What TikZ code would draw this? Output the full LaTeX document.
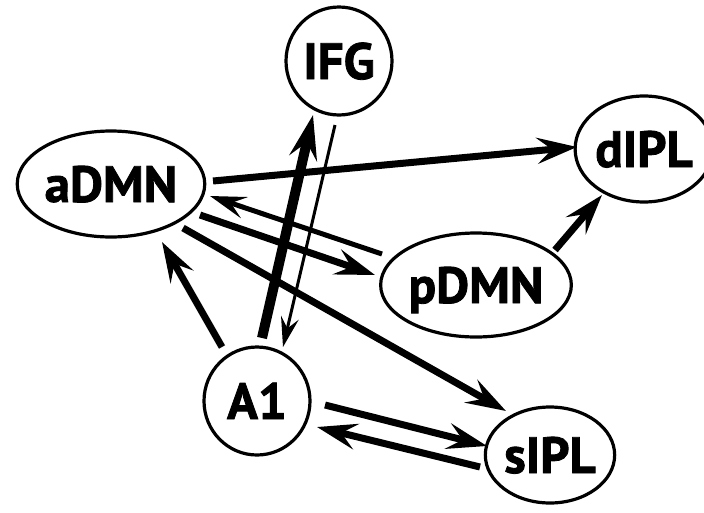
\documentclass[tikz,border=0pt]{standalone}
\usepackage{fontspec}
\setmainfont{PT Sans}[BoldFeatures={FakeBold=1.6}]
\usetikzlibrary{shapes.geometric,arrows.meta}

\begin{document}
\begin{tikzpicture}[x=1pt,y=-1pt,
  region/.style={draw, ellipse, line width=3.2pt, inner sep=0pt,
    text height=36pt, text depth=0pt,
    font=\fontsize{51}{51}\selectfont\bfseries},
  link/.style={line width=7pt,
    -{Stealth[length=40pt,width=26pt,inset=15pt]}},
  midlink/.style={line width=5pt,
    -{Stealth[length=36pt,width=22pt,inset=14pt]}},
  biglink/.style={line width=10pt,
    -{Stealth[length=44pt,width=28pt,inset=16pt]}},
  thinlink/.style={line width=3pt,
    -{Stealth[length=30pt,width=18pt,inset=11pt]}}]

\useasboundingbox (0,0) rectangle (704,512);

% regions
\node[region, minimum width=106pt, minimum height=108pt] (IFG)  at (339,61)  {IFG};
\node[region, minimum width=178pt, minimum height=106pt] (aDMN) at (111,184) {aDMN};
\node[region, minimum width=118pt, minimum height=106pt] (dIPL) at (644,149) {dIPL};
\node[region, minimum width=182pt, minimum height=104pt] (pDMN) at (476,285) {pDMN};
\node[region, minimum width=106pt, minimum height=108pt] (A1)   at (257,401) {A1};
\node[region, minimum width=114pt, minimum height=96pt]  (sIPL) at (550,455) {sIPL};

% connections
\draw[link]    ([shift={(102,-3)}]aDMN.center) -- ([shift={(-67,-2)}]dIPL.center);
\draw[midlink] ([shift={(-94,-31)}]pDMN.center) -- ([shift={(99,12)}]aDMN.center);
\draw[link]    ([shift={(89,31)}]aDMN.center)  -- ([shift={(-101,-10)}]pDMN.center);
\draw[link]    ([shift={(72,44)}]aDMN.center)  -- ([shift={(-44,-44)}]sIPL.center);
\draw[link]    ([shift={(-35,-54)}]A1.center)  -- ([shift={(51,58)}]aDMN.center);
\draw[biglink] ([shift={(5,-63)}]A1.center)    -- ([shift={(-26,54)}]IFG.center);
\draw[thinlink]([shift={(-4,64)}]IFG.center)   -- ([shift={(26,-54)}]A1.center);
\draw[link]    ([shift={(79,-35)}]pDMN.center) -- ([shift={(-42,46)}]dIPL.center);
\draw[link]    ([shift={(68,4)}]A1.center)     -- ([shift={(-63,-9)}]sIPL.center);
\draw[link]    ([shift={(-70,12)}]sIPL.center) -- ([shift={(60,26)}]A1.center);

\end{tikzpicture}
\end{document}
